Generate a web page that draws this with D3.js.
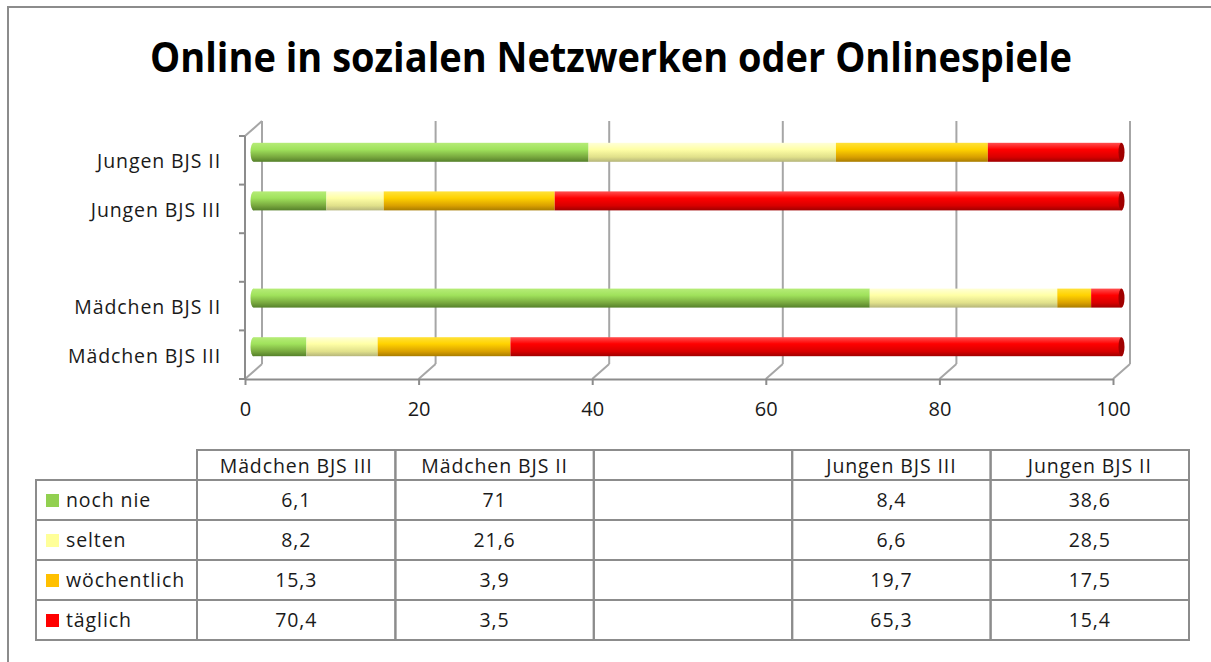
<!DOCTYPE html>
<html lang="de">
<head>
<meta charset="UTF-8">
<title>Online in sozialen Netzwerken oder Onlinespiele</title>
<style>
    body { margin: 0; background: #fff; }
    svg { display: block; font-family: "Open Sans", "Noto Sans", sans-serif; }
    .lbl { font-size: 19.5px; fill: #1a1a1a; letter-spacing: 0.9px; }
    .grid { stroke: #a6a6a6; stroke-width: 2; fill: none; }
    .axis-line { stroke: #8c8c8c; stroke-width: 2; fill: none; }
    .tbl { stroke: #8c8c8c; stroke-width: 2; fill: none; }
</style>
</head>
<body>
<script src="https://d3js.org/d3.v7.min.js"></script>
<script>
    const width = 1211;
    const height = 662;

    // categories bottom -> top (as in the data table, left -> right)
    const categories = ["Mädchen BJS III", "Mädchen BJS II", "", "Jungen BJS III", "Jungen BJS II"];
    const seriesNames = ["noch nie", "selten", "wöchentlich", "täglich"];
    const nochNie     = [6.1, 71, null, 8.4, 38.6];
    const selten      = [8.2, 21.6, null, 6.6, 28.5];
    const woechentlich = [15.3, 3.9, null, 19.7, 17.5];
    const taeglich    = [70.4, 3.5, null, 65.3, 15.4];
    const xTicks = [0, 20, 40, 60, 80, 100];

    const series = [nochNie, selten, woechentlich, taeglich];
    const colors = ["#92d050", "#ffff99", "#ffc000", "#ff0000"];
    const shades = [
        ["#b6ec78", "#a0e25c", "#78a83e", "#55802a"],
        ["#ffffd8", "#ffffa6", "#e0e08a", "#b5b57a"],
        ["#ffe23a", "#ffd200", "#d9a000", "#a87c00"],
        ["#ff5050", "#ff0000", "#d80000", "#a00000"]
    ];

    const svg = d3.select("body").append("svg")
        .attr("width", width)
        .attr("height", height);

    // gradients for cylinder look
    const defs = svg.append("defs");
    shades.forEach((s, i) => {
        const g = defs.append("linearGradient")
            .attr("id", "grad" + i)
            .attr("x1", 0).attr("y1", 0).attr("x2", 0).attr("y2", 1);
        g.append("stop").attr("offset", "0%").attr("stop-color", s[0]);
        g.append("stop").attr("offset", "35%").attr("stop-color", s[1]);
        g.append("stop").attr("offset", "75%").attr("stop-color", s[2]);
        g.append("stop").attr("offset", "100%").attr("stop-color", s[3]);
    });

    // outer chart frame (runs off the picture at right and bottom)
    svg.append("rect")
        .attr("x", 8).attr("y", 7)
        .attr("width", 1230).attr("height", 680)
        .attr("fill", "none").attr("stroke", "#8c8c8c").attr("stroke-width", 2);

    svg.append("text")
        .attr("x", 611).attr("y", 72)
        .attr("text-anchor", "middle")
        .attr("font-size", 41)
        .attr("font-weight", "bold")
        .attr("textLength", 922)
        .attr("lengthAdjust", "spacingAndGlyphs")
        .text("Online in sozialen Netzwerken oder Onlinespiele");

    // 3D depth offset
    const dx = 17, dy = -15;

    const x = d3.scaleLinear().domain([0, 100]).range([245, 1113]);
    const y = d3.scaleBand().domain(categories).range([379, 136]).padding(0);

    const plotTop = 136, plotBottom = 379;

    // back wall gridlines
    svg.append("g").selectAll("line")
        .data(xTicks)
        .join("line")
        .attr("class", "grid")
        .attr("x1", d => x(d) + dx).attr("x2", d => x(d) + dx)
        .attr("y1", plotTop + dy).attr("y2", plotBottom + dy);

    // floor depth lines
    svg.append("g").selectAll("line")
        .data(xTicks)
        .join("line")
        .attr("class", "grid")
        .attr("x1", d => x(d)).attr("y1", plotBottom)
        .attr("x2", d => x(d) + dx).attr("y2", plotBottom + dy);

    // left wall top edge
    svg.append("line").attr("class", "grid")
        .attr("x1", x(0)).attr("y1", plotTop)
        .attr("x2", x(0) + dx).attr("y2", plotTop + dy);

    // x axis
    const xAxis = svg.append("g")
        .attr("transform", `translate(0,${plotBottom})`)
        .call(d3.axisBottom(x).tickValues(xTicks).tickSize(6).tickPadding(17).tickSizeOuter(0));
    xAxis.select(".domain").attr("stroke", "#8c8c8c").attr("stroke-width", 2);
    xAxis.selectAll(".tick line").attr("stroke", "#8c8c8c").attr("stroke-width", 2);
    xAxis.selectAll(".tick text")
        .attr("font-size", 20).attr("fill", "#1a1a1a")
        .attr("font-family", "'Open Sans', sans-serif");

    // y axis line + band boundary ticks
    svg.append("line").attr("class", "axis-line")
        .attr("x1", x(0)).attr("x2", x(0))
        .attr("y1", plotTop).attr("y2", plotBottom);
    const boundaries = categories.map(c => y(c)).concat([plotBottom]);
    svg.append("g").selectAll("line")
        .data(boundaries)
        .join("line")
        .attr("class", "axis-line")
        .attr("x1", x(0) - 6).attr("x2", x(0))
        .attr("y1", d => d).attr("y2", d => d);

    // category labels
    svg.append("g").selectAll("text")
        .data(categories.filter(c => c !== ""))
        .join("text")
        .attr("class", "lbl")
        .attr("x", 221)
        .attr("y", d => y(d) + y.bandwidth() / 2 + 8)
        .attr("text-anchor", "end")
        .text(d => d);

    // stacked cylinder bars, drawn halfway into the depth
    const bx = d3.scaleLinear().domain([0, 100]).range([x(0) + dx / 2, x(100) + dx / 2]);
    const barH = 19;
    const barG = svg.append("g");
    categories.forEach((c, ci) => {
        if (c === "") return;
        const cy = y(c) + y.bandwidth() / 2 - 8;
        let acc = 0;
        series.forEach((s, si) => {
            const v = s[ci];
            barG.append("rect")
                .attr("x", bx(acc))
                .attr("y", cy - barH / 2)
                .attr("width", bx(acc + v) - bx(acc))
                .attr("height", barH)
                .attr("fill", `url(#grad${si})`);
            acc += v;
        });
        // rounded ends of the cylinder
        barG.append("ellipse")
            .attr("cx", bx(0)).attr("cy", cy)
            .attr("rx", 3).attr("ry", barH / 2)
            .attr("fill", `url(#grad0)`);
        barG.append("ellipse")
            .attr("cx", bx(acc)).attr("cy", cy)
            .attr("rx", 3).attr("ry", barH / 2)
            .attr("fill", shades[3][3]);
    });

    // data table
    const tx = d3.scaleBand().domain(categories).range([197, 1189]);
    const rowTop = 450, headH = 30, rowH = 40;
    const ty = i => rowTop + headH + i * rowH;
    const tbl = svg.append("g");

    // header cells
    tbl.selectAll("rect.head")
        .data(categories)
        .join("rect")
        .attr("class", "tbl")
        .attr("x", d => tx(d)).attr("y", rowTop)
        .attr("width", tx.bandwidth()).attr("height", headH);
    tbl.selectAll("text.head")
        .data(categories)
        .join("text")
        .attr("class", "lbl")
        .attr("x", d => tx(d) + tx.bandwidth() / 2)
        .attr("y", rowTop + 23)
        .attr("text-anchor", "middle")
        .text(d => d);

    seriesNames.forEach((name, si) => {
        const ry = ty(si);
        tbl.append("rect").attr("class", "tbl")
            .attr("x", 36).attr("y", ry)
            .attr("width", 197 - 36).attr("height", rowH);
        tbl.append("rect")
            .attr("x", 46).attr("y", ry + 14)
            .attr("width", 13).attr("height", 13)
            .attr("fill", colors[si]);
        tbl.append("text").attr("class", "lbl")
            .attr("x", 66).attr("y", ry + 27)
            .text(name);
        categories.forEach((c, ci) => {
            tbl.append("rect").attr("class", "tbl")
                .attr("x", tx(c)).attr("y", ry)
                .attr("width", tx.bandwidth()).attr("height", rowH);
            const v = series[si][ci];
            if (v !== null) {
                tbl.append("text").attr("class", "lbl")
                    .attr("x", tx(c) + tx.bandwidth() / 2)
                    .attr("y", ry + 27)
                    .attr("text-anchor", "middle")
                    .text(String(v).replace(".", ","));
            }
        });
    });
</script>
</body>
</html>
